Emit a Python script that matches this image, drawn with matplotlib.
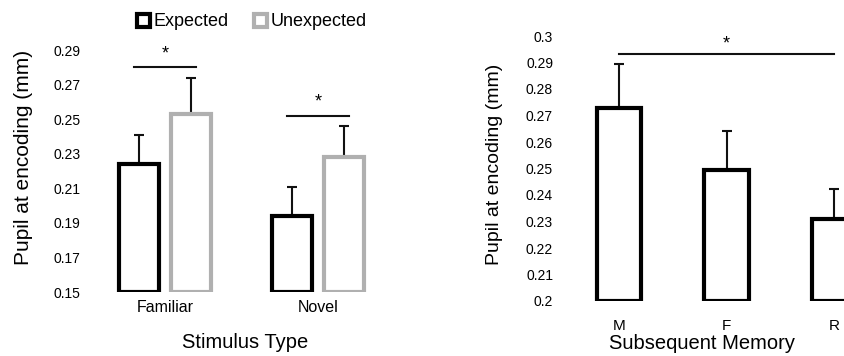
import numpy as np
import matplotlib.pyplot as plt
from matplotlib.patches import Patch

plt.rcParams['font.family'] = ['Liberation Sans', 'DejaVu Sans']

# Left panel: stimulus type x expectation
stim_types = ["Familiar", "Novel"]
expected_mean = [0.224, 0.194]
expected_sem = [0.017, 0.017]
unexpected_mean = [0.253, 0.228]
unexpected_sem = [0.021, 0.018]
left_ticks = [0.15, 0.17, 0.19, 0.21, 0.23, 0.25, 0.27, 0.29]
left_sig_y = [0.280, 0.2518]

# Right panel: subsequent memory
memory = ["M", "F", "R"]
memory_mean = [0.2728, 0.2494, 0.231]
memory_sem = [0.0166, 0.0148, 0.0113]
right_ticks = [0.2, 0.21, 0.22, 0.23, 0.24, 0.25, 0.26, 0.27, 0.28, 0.29, 0.3]
right_sig_y = 0.2932

gray = "#b0b0b0"
W, H = 844, 356
fig = plt.figure(figsize=(W / 100, H / 100), dpi=100)

# ---- left axes
ax1 = fig.add_axes([100 / W, 64 / H, 290 / W, 242 / H])
x = np.arange(len(stim_types))
off, bw = 0.17, 0.26
base = 0.15
ax1.bar(x - off, np.array(expected_mean) - base, bw, bottom=base,
        facecolor="white", edgecolor="black", linewidth=3, zorder=2)
ax1.bar(x + off, np.array(unexpected_mean) - base, bw, bottom=base,
        facecolor="white", edgecolor=gray, linewidth=3, zorder=2)
ax1.errorbar(x - off, expected_mean, yerr=[np.zeros(2), expected_sem],
             fmt="none", ecolor="#111111", elinewidth=1.5, capsize=3.5,
             capthick=1.5, zorder=1)
ax1.errorbar(x + off, unexpected_mean, yerr=[np.zeros(2), unexpected_sem],
             fmt="none", ecolor="#111111", elinewidth=1.5, capsize=3.5,
             capthick=1.5, zorder=1)
for xi, ys in zip(x, left_sig_y):
    ax1.plot([xi - off - 0.03, xi + off + 0.03], [ys, ys], color="#111111",
             lw=1.5, clip_on=False)
    ax1.text(xi, ys + 0.003, "*", ha="center", va="bottom", fontsize=13,
             clip_on=False)
ax1.set_xlim(-0.425, 1.47)
ax1.set_ylim(0.15, 0.29)
ax1.set_yticks(left_ticks)
ax1.set_yticklabels([f"{t:.2f}" for t in left_ticks], fontsize=10)
ax1.set_xticks(x)
ax1.set_xticklabels(stim_types, fontsize=11.5)
ax1.tick_params(axis="y", length=0, pad=14)
ax1.tick_params(axis="x", length=0, pad=6)
for s in ax1.spines.values():
    s.set_visible(False)
ax1.set_ylabel("Pupil at encoding (mm)", fontsize=15)
ax1.yaxis.set_label_coords(-0.231, 0.558)
ax1.set_xlabel("Stimulus Type", fontsize=14.5, labelpad=13)

handles = [Patch(facecolor="white", edgecolor="black", linewidth=3, label="Expected"),
           Patch(facecolor="white", edgecolor=gray, linewidth=3, label="Unexpected")]
fig.legend(handles=handles, loc="center left", bbox_to_anchor=(121 / W, 1 - 22 / H),
           ncol=2, frameon=False, fontsize=13, handlelength=0.7,
           handleheight=0.7, handletextpad=0.2, columnspacing=1.4)

# ---- right axes
ax2 = fig.add_axes([560 / W, 55 / H, 284 / W, 265 / H])
x2 = np.arange(len(memory))
rbase = 0.2
ax2.bar(x2, np.array(memory_mean) - rbase, 0.41, bottom=rbase,
        facecolor="white", edgecolor="black", linewidth=3, zorder=2)
ax2.errorbar(x2, memory_mean, yerr=[np.zeros(3), memory_sem], fmt="none",
             ecolor="#111111", elinewidth=1.5, capsize=3.5, capthick=1.5,
             zorder=1)
ax2.plot([x2[0], x2[-1]], [right_sig_y, right_sig_y], color="#111111", lw=1.5,
         clip_on=False)
ax2.text(x2[1], right_sig_y + 0.0006, "*", ha="center", va="bottom",
         fontsize=13)
ax2.set_xlim(-0.549, 2.093)
ax2.set_ylim(0.2, 0.3)
ax2.set_yticks(right_ticks)
ax2.set_yticklabels([f"{t:g}" for t in right_ticks], fontsize=10)
ax2.set_xticks(x2)
ax2.set_xticklabels(memory, fontsize=11)
ax2.tick_params(axis="x", length=0, pad=13)
ax2.tick_params(axis="y", length=0, pad=5)
for s in ax2.spines.values():
    s.set_visible(False)
ax2.set_ylabel("Pupil at encoding (mm)", fontsize=14)
ax2.yaxis.set_label_coords(-0.2007, 0.517)
ax2.set_xlabel("Subsequent Memory", fontsize=14.5, labelpad=1)

fig.savefig("out.png", dpi=100)
